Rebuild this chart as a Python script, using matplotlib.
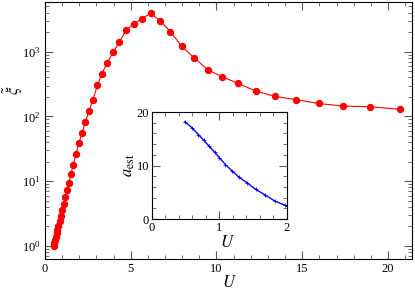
import matplotlib
matplotlib.use("Agg")
import matplotlib.pyplot as plt
from matplotlib.ticker import MultipleLocator, LogLocator, NullFormatter

plt.rcParams['font.family'] = ['Liberation Serif', 'DejaVu Serif']
plt.rcParams['mathtext.fontset'] = 'stix'

# main curve: xi~ vs U
U = [0.50, 0.54, 0.58, 0.62, 0.68, 0.72, 0.78, 0.85, 0.93, 0.99, 1.08, 1.18,
     1.28, 1.40, 1.51, 1.65, 1.80, 1.98, 2.15, 2.35, 2.58, 2.79, 3.06, 3.31,
     3.64, 3.99, 4.34, 4.75, 5.19, 5.64, 6.16, 6.71, 7.31, 7.98, 8.68, 9.49,
     10.35, 11.26, 12.31, 13.41, 14.61, 15.95, 17.40, 18.97, 20.70]
log_xi = [0.00, 0.05, 0.10, 0.14, 0.195, 0.246, 0.31, 0.385, 0.47, 0.55, 0.65,
          0.75, 0.86, 0.98, 1.11, 1.25, 1.415, 1.585, 1.74, 1.91, 2.09, 2.26,
          2.48, 2.66, 2.83, 3.00, 3.15, 3.34, 3.43, 3.51, 3.59, 3.48, 3.31,
          3.08, 2.91, 2.72, 2.61, 2.51, 2.39, 2.31, 2.26, 2.20, 2.16, 2.15, 2.11]
xi = [10 ** v for v in log_xi]

# inset: a_est vs U
U_in = [0.49, 0.59, 0.69, 0.77, 0.85, 0.93, 1.00, 1.09, 1.19, 1.29, 1.41,
        1.54, 1.68, 1.82, 1.97, 2.0]
a_est = [18.2, 17.1, 15.8, 14.7, 13.6, 12.5, 11.5, 10.2, 9.0, 7.85, 6.8,
         5.55, 4.5, 3.4, 2.6, 2.45]

fig = plt.figure(figsize=(4.15, 2.91), dpi=100)
ax = fig.add_axes([0.1084, 0.110, 0.8844, 0.884])
ax.plot(U, xi, color='red', lw=0.8, marker='o', ms=4.3, mec='red', mfc='red')
ax.set_yscale('log')
ax.set_xlim(0, 21.4)
ax.set_ylim(0.63, 5900)
ax.xaxis.set_major_locator(MultipleLocator(5))
ax.xaxis.set_minor_locator(MultipleLocator(1))
ax.yaxis.set_major_locator(LogLocator(base=10, numticks=10))
ax.yaxis.set_minor_locator(LogLocator(base=10, subs=range(2, 10), numticks=20))
ax.yaxis.set_minor_formatter(NullFormatter())
ax.tick_params(which='both', direction='in', top=True, right=True,
               labelsize=9, color='0.35', pad=3)
ax.tick_params(which='major', length=6, width=0.8)
ax.tick_params(which='minor', length=3, width=0.6)
# axis labels placed as figure text so they stay inside the canvas
fig.text(229 / 415, 1 - 283 / 291, r'$U$', fontsize=12,
         ha='center', va='center')
fig.text(1 / 415, 1 - 90 / 291, r'$\tilde{\xi}$', fontsize=12,
         rotation=90, ha='left', va='center')

ins = fig.add_axes([0.366, 0.247, 0.325, 0.368])
ins.plot(U_in, a_est, color='blue', lw=1.0, marker='+', ms=3, mew=0.6)
ins.set_xlim(0, 2)
ins.set_ylim(0, 20)
ins.xaxis.set_major_locator(MultipleLocator(1))
ins.xaxis.set_minor_locator(MultipleLocator(0.2))
ins.yaxis.set_major_locator(MultipleLocator(10))
ins.yaxis.set_minor_locator(MultipleLocator(2))
ins.tick_params(which='both', direction='in', top=True, right=True,
                labelsize=9, pad=2, color='0.35')
ins.tick_params(which='major', length=6, width=0.8)
ins.tick_params(which='minor', length=3, width=0.6)
ins.set_xlabel(r'$U$', fontsize=12)
ins.xaxis.set_label_coords(0.563, -0.15)
ins.set_ylabel(r'$a_{\rm est}$', fontsize=12, labelpad=0)

fig.savefig('out.png', dpi=100)
